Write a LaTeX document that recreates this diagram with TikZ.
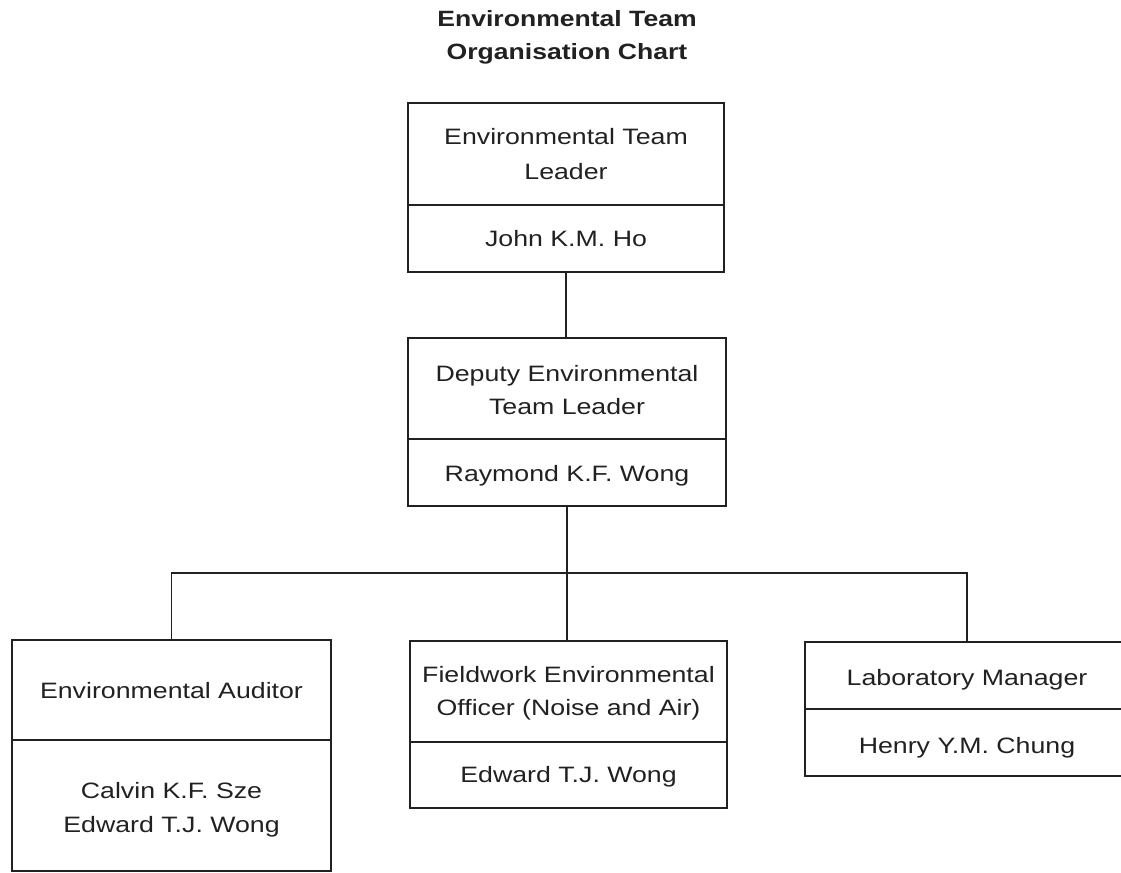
\documentclass[tikz,border=0pt]{standalone}
\usepackage{fontspec}
\setmainfont{Liberation Sans}[FakeStretch=1.2]
\definecolor{ink}{gray}{0.13}
\begin{document}
\begin{tikzpicture}[x=0.75pt,y=-0.75pt,
  part/.style={draw=ink, line width=0.9pt, inner sep=0pt, outer sep=0pt, fill=none},
  wire/.style={draw=ink, line width=0.9pt},
  txt/.style={anchor=base, inner sep=0pt, text=ink, font=\fontsize{16.7}{20}\selectfont},
  ttl/.style={anchor=base, inner sep=0pt, text=ink, font=\fontsize{16.6}{20}\selectfont\bfseries}]
\useasboundingbox (0,0) rectangle (1121,873);
\clip (0,0) rectangle (1121,873);
% title
\node[ttl] (title1) at (567,27) {Environmental Team};
\node[ttl] (title2) at (567,60) {Organisation Chart};
% compartments
\node[part, minimum width=237pt, minimum height=76.5pt] (b1t) at (566,154) {};
\node[part, minimum width=237pt, minimum height=50.25pt] (b1b) at (566,238.5) {};
\node[part, minimum width=238.5pt, minimum height=75.75pt] (b2t) at (567,388.5) {};
\node[part, minimum width=238.5pt, minimum height=50.25pt] (b2b) at (567,472.5) {};
\node[part, minimum width=239.25pt, minimum height=75pt] (b3t) at (171.5,690) {};
\node[part, minimum width=239.25pt, minimum height=98.25pt] (b3b) at (171.5,805.5) {};
\node[part, minimum width=237.75pt, minimum height=75.75pt] (b4t) at (568.5,691.5) {};
\node[part, minimum width=237.75pt, minimum height=49.5pt] (b4b) at (568.5,775) {};
\node[part, minimum width=243pt, minimum height=50.25pt] (b5t) at (967,675.5) {};
\node[part, minimum width=243pt, minimum height=50.25pt] (b5b) at (967,742.5) {};
% texts
\node[txt] (l1a) at (566,145) {Environmental Team};
\node[txt] (l1b) at (566,180) {Leader};
\node[txt] (n1) at (566,247) {John K.M. Ho};
\node[txt] (l2a) at (567,382) {Deputy Environmental};
\node[txt] (l2b) at (567,415) {Team Leader};
\node[txt] (n2) at (567,481) {Raymond K.F. Wong};
\node[txt] (l3a) at (171.5,698) {Environmental Auditor};
\node[txt] (n3a) at (171.5,798) {Calvin K.F. Sze};
\node[txt] (n3b) at (171.5,832) {Edward T.J. Wong};
\node[txt] (l4a) at (568.5,682) {Fieldwork Environmental};
\node[txt] (l4b) at (568.5,715) {Officer (Noise and Air)};
\node[txt] (n4) at (568.5,782) {Edward T.J. Wong};
\node[txt] (l5a) at (967,685) {Laboratory Manager};
\node[txt] (n5) at (967,753) {Henry Y.M. Chung};
% connectors
\coordinate (bus) at (568,573);
\draw[wire] (b1b.south) -- (b1b.south |- b2t.north);
\draw[wire] (b2b.south) -- (b2b.south |- b4t.north);
\draw[wire] (b3t.north) -- (b3t.north |- bus) -- (b5t.north |- bus) -- (b5t.north);
\end{tikzpicture}
\end{document}
